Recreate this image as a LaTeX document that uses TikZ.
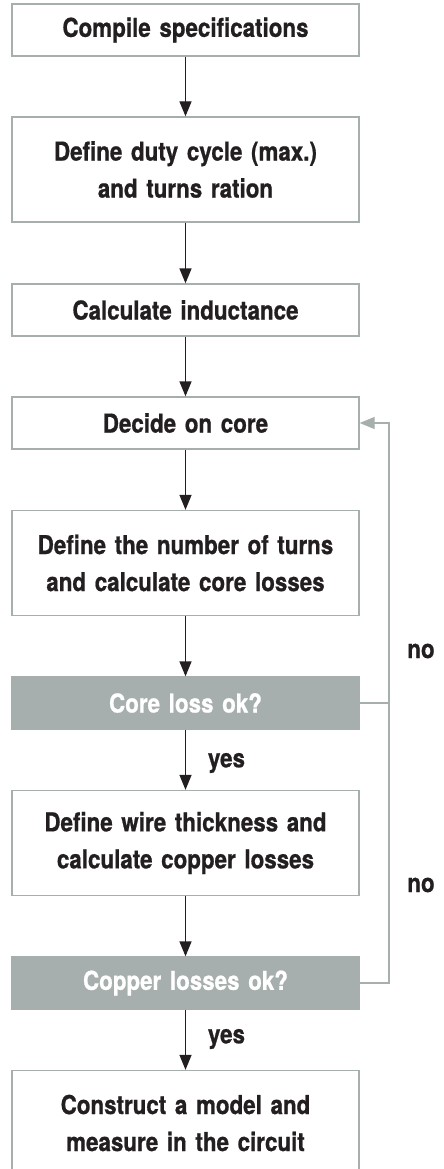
\documentclass[tikz,border=0pt]{standalone}
\usepackage{fontspec}
\setmainfont{TeX Gyre Heros}[FakeStretch=0.86, BoldFeatures={FakeBold=0.8}]
\usetikzlibrary{arrows.meta}

\definecolor{boxgray}{HTML}{A7AFAE}
\definecolor{inkdark}{HTML}{231F20}

\tikzset{
  stepbox/.style={draw=boxgray, line width=1.3pt, fill=white, minimum width=347pt,
    text width=335pt, align=center, inner sep=0pt, text=inkdark,
    font=\fontsize{26}{37}\selectfont\bfseries},
  checkbox/.style={stepbox, fill=boxgray, text=white},
  lbl/.style={inner sep=0pt, text=inkdark, font=\fontsize{26}{28}\selectfont\bfseries},
  flow/.style={-{Triangle[length=15pt,width=12pt]}, line width=1.3pt, draw=inkdark},
  back/.style={-{Triangle[length=15pt,width=12pt]}, line width=1.3pt, draw=boxgray},
  backline/.style={line width=1.3pt, draw=boxgray},
}

\begin{document}
\begin{tikzpicture}[x=1pt, y=-1pt]

  \useasboundingbox (0,0) rectangle (444,1169);

  % process steps
  \node[stepbox, minimum height=52pt]  (spec)   at (185.5,30)    {Compile specifications};
  \node[stepbox, minimum height=105pt] (duty)   at (185.5,169.5) {Define duty cycle (max.)\\and turns ration};
  \node[stepbox, minimum height=52pt]  (induct) at (185.5,310)   {Calculate inductance};
  \node[stepbox, minimum height=52pt]  (core)   at (185.5,423)   {Decide on core};
  \node[stepbox, minimum height=105pt] (turns)  at (185.5,563)   {Define the number of turns\\and calculate core losses};
  \node[checkbox, minimum height=52pt] (coreok) at (185.5,703)   {Core loss ok?};
  \node[stepbox, minimum height=105pt] (wire)   at (185.5,843)   {Define wire thickness and\\calculate copper losses};
  \node[checkbox, minimum height=52pt] (cuok)   at (185.5,983)   {Copper losses ok?};
  \node[stepbox, minimum height=105pt] (model)  at (185.5,1123)  {Construct a model and\\measure in the circuit};

  % main flow
  \draw[flow] (spec) -- (duty);
  \draw[flow] (duty) -- (induct);
  \draw[flow] (induct) -- (core);
  \draw[flow] (core) -- (turns);
  \draw[flow] (turns) -- (coreok);
  \draw[flow] (coreok) -- (wire);
  \draw[flow] (wire) -- (cuok);
  \draw[flow] (cuok) -- (model);

  % loop back
  \coordinate (rail) at (389,0);
  \draw[back] (cuok.east) -- (cuok.east -| rail) |- (core.east);
  \draw[backline] (coreok.east) -- (coreok.east -| rail);

  \node[lbl] (yes1) at (226.5,763)  {yes};
  \node[lbl] (yes2) at (226.5,1039) {yes};
  \node[lbl] (no1)  at (421,651)    {no};
  \node[lbl] (no2)  at (421,885)    {no};

\end{tikzpicture}
\end{document}
